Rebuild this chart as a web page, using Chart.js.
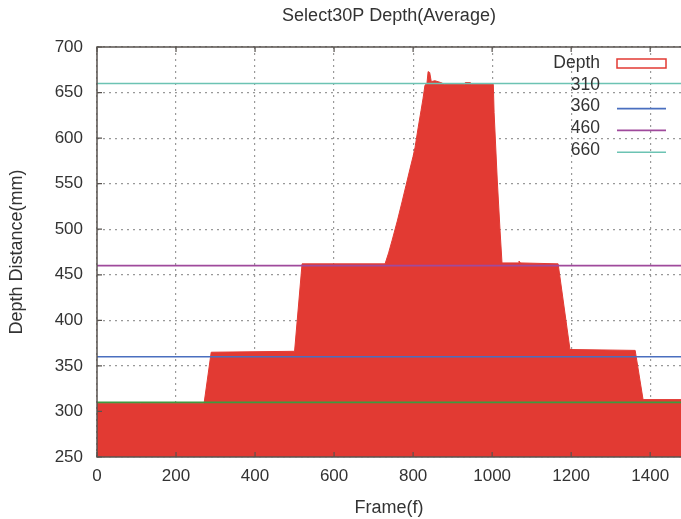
<!DOCTYPE html>
<html>
<head>
<meta charset="utf-8">
<script src="https://cdn.jsdelivr.net/npm/chart.js@4"></script>
<style>
  html, body { margin: 0; padding: 0; background: #fff; }
  #wrap { width: 681px; height: 519px; }
</style>
</head>
<body>
<div id="wrap"><canvas id="graph-canvas" width="681" height="519"></canvas></div>
<script>
// Depth (mm) per frame
const frames = [0, 110, 271, 289, 500, 519, 729, 738, 747, 760, 772, 782, 792, 800, 805, 813, 820, 825, 830, 835, 838, 842, 846, 855, 870, 880, 930, 932, 945, 947, 1003, 1005, 1013, 1020, 1025, 1067, 1068, 1072, 1167, 1197, 1362, 1382, 1478];
const depth  = [309, 309, 309, 365, 366, 462, 462, 474, 488, 509, 530, 548, 566, 580, 590, 612, 630, 643, 658, 660, 673, 672, 662, 663, 661, 659, 659, 661, 661, 659, 659, 628, 554, 499, 463, 463, 465, 463, 462, 368, 367, 313, 313];

const refLevels = [310, 360, 460, 660];
const refColors = ['#3f9a3f', '#4a6fbf', '#9f4a9c', '#6cc3b3'];
const refSample = [false, true, true, true];

const xTicks = [0, 200, 400, 600, 800, 1000, 1200, 1400];
const yTicks = [250, 300, 350, 400, 450, 500, 550, 600, 650, 700];

const xMax = 1478;
const fillRed = '#e23a33';
const frameColor = '#58534f';
const textColor = '#333333';
const fontFamily = '"Liberation Sans", Arial, sans-serif';

document.addEventListener("DOMContentLoaded", () => {
    const ctx = document.getElementById('graph-canvas').getContext('2d');

    const datasets = [{
        label: 'Depth',
        data: frames.map((f, i) => ({ x: f, y: depth[i] })),
        borderColor: fillRed,
        backgroundColor: fillRed,
        borderWidth: 1,
        pointRadius: 0,
        fill: 'start',
        tension: 0,
        order: 10
    }];
    refLevels.forEach((lv, i) => {
        datasets.push({
            label: String(lv),
            data: [{ x: 0, y: lv }, { x: xMax, y: lv }],
            borderColor: refColors[i],
            borderWidth: 1.6,
            pointRadius: 0,
            fill: false,
            order: 1
        });
    });

    // gnuplot style frame, inward ticks, title and legend
    const gnuplotLook = {
        id: 'gnuplotLook',
        afterDatasetsDraw(chart) {
            const c = chart.ctx;
            const a = chart.chartArea;
            const xs = chart.scales.x, ys = chart.scales.y;
            c.save();
            c.strokeStyle = frameColor;
            c.lineWidth = 1.5;
            c.beginPath();
            c.moveTo(chart.width, a.top); c.lineTo(a.left, a.top);
            c.lineTo(a.left, a.bottom); c.lineTo(chart.width, a.bottom);
            c.stroke();
            c.lineWidth = 1.2;
            c.beginPath();
            yTicks.forEach(v => {
                const y = ys.getPixelForValue(v);
                c.moveTo(a.left, y); c.lineTo(a.left + 5, y);
            });
            xTicks.forEach(v => {
                const x = xs.getPixelForValue(v);
                c.moveTo(x, a.bottom); c.lineTo(x, a.bottom - 5);
                c.moveTo(x, a.top); c.lineTo(x, a.top + 5);
            });
            c.stroke();

            // title centred over the plot
            c.fillStyle = textColor;
            c.font = '18px ' + fontFamily;
            c.textAlign = 'center';
            c.textBaseline = 'middle';
            c.fillText('Select30P Depth(Average)', (a.left + 681) / 2, 16);

            // legend
            const rows = ['Depth'].concat(refLevels.map(String));
            c.font = '17.5px ' + fontFamily;
            c.textAlign = 'right';
            rows.forEach((t, i) => {
                const y = 63 + i * 21.8;
                c.fillStyle = textColor;
                c.fillText(t, 600, y);
                if (i === 0) {
                    c.fillStyle = '#fff';
                    c.fillRect(617, y - 4, 49, 9);
                    c.strokeStyle = fillRed;
                    c.lineWidth = 1.5;
                    c.strokeRect(617, y - 4, 49, 9);
                } else if (refSample[i - 1]) {
                    c.strokeStyle = refColors[i - 1];
                    c.lineWidth = 1.6;
                    c.beginPath();
                    c.moveTo(617, y + 2); c.lineTo(666, y + 2);
                    c.stroke();
                }
            });
            c.restore();
        }
    };

    new Chart(ctx, {
        type: 'line',
        data: { datasets },
        plugins: [gnuplotLook],
        options: {
            responsive: false,
            animation: false,
            layout: { padding: { top: 47, left: 0, right: 0, bottom: 0 } },
            plugins: {
                legend: { display: false },
                title: { display: false },
                tooltip: { enabled: false }
            },
            scales: {
                x: {
                    type: 'linear',
                    min: 0,
                    max: xMax,
                    afterFit: s => { s.height = 62; },
                    afterBuildTicks: s => { s.ticks = xTicks.map(v => ({ value: v })); },
                    ticks: {
                        autoSkip: false,
                        maxRotation: 0,
                        padding: 9,
                        color: textColor,
                        font: { size: 17, family: fontFamily },
                        callback: v => String(v)
                    },
                    grid: { color: '#999', lineWidth: 1.2, drawTicks: false },
                    border: { display: false, dash: [2, 4] },
                    title: {
                        display: true,
                        text: 'Frame(f)',
                        color: textColor,
                        font: { size: 18, family: fontFamily },
                        padding: { top: 8, bottom: 0 }
                    }
                },
                y: {
                    min: 250,
                    max: 700,
                    afterFit: s => { s.width = 97; },
                    afterBuildTicks: s => { s.ticks = yTicks.map(v => ({ value: v })); },
                    ticks: {
                        padding: 14,
                        color: textColor,
                        font: { size: 17, family: fontFamily }
                    },
                    grid: { color: '#999', lineWidth: 1.2, drawTicks: false },
                    border: { display: false, dash: [2, 4] },
                    title: {
                        display: true,
                        text: 'Depth Distance(mm)',
                        color: textColor,
                        font: { size: 18, family: fontFamily },
                        padding: { top: 6, bottom: 0 }
                    }
                }
            }
        }
    });
});
</script>
</body>
</html>
